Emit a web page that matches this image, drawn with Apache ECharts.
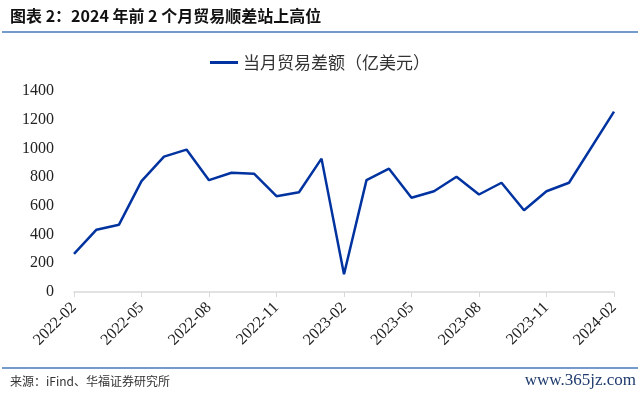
<!DOCTYPE html>
<html><head><meta charset="utf-8">
<script src="https://cdn.jsdelivr.net/npm/echarts@6/dist/echarts.min.js"></script>
<style>html,body{margin:0;padding:0;background:#fff}#c{width:640px;height:396px}</style>
</head><body><div id="c"></div>
<script>
const categories = ['2022-02','2022-03','2022-04','2022-05','2022-06','2022-07','2022-08','2022-09','2022-10','2022-11','2022-12','2023-01','2023-02','2023-03','2023-04','2023-05','2023-06','2023-07','2023-08','2023-09','2023-10','2023-11','2023-12','2024-01','2024-02'];
const tradeBalance = [266, 434, 469, 772, 943, 992, 779, 831, 824, 667, 695, 929, 124, 779, 859, 656, 702, 803, 679, 761, 569, 702, 761, null, 1256];
const yTicks = [0, 200, 400, 600, 800, 1000, 1200, 1400];
const seriesName = '当月贸易差额（亿美元）';
const titleText = '图表 2：2024 年前 2 个月贸易顺差站上高位';
const sourceText = '来源：iFind、华福证券研究所';
const watermark = 'www.365jz.com';

const chart = echarts.init(document.getElementById('c'));
chart.setOption({
  animation: false,
  grid: {left: 74, right: 26, top: 91, bottom: 104, containLabel: false},
  legend: {
    top: 49, left: 'center',
    itemWidth: 28, itemHeight: 14, itemGap: 6,
    icon: 'path://M0,6L28,6L28,9L0,9Z',
    textStyle: {fontFamily: 'Noto Sans CJK SC', fontSize: 17, color: '#333'},
    data: [seriesName]
  },
  xAxis: {
    type: 'category', data: categories, boundaryGap: false,
    axisLine: {lineStyle: {color: '#d9d9d9', width: 1.5}},
    axisTick: {show: true, interval: 2, length: 5, lineStyle: {color: '#d9d9d9'}},
    axisLabel: {interval: 2, rotate: 45, margin: 13, fontFamily: 'Liberation Serif', fontSize: 16, color: '#222'},
    splitLine: {show: false}
  },
  yAxis: {
    type: 'value', min: yTicks[0], max: yTicks[yTicks.length-1], interval: 200,
    axisLine: {show: false}, axisTick: {show: false},
    splitLine: {show: false},
    axisLabel: {margin: 20, fontFamily: 'Liberation Serif', fontSize: 16, color: '#222', formatter: v => String(v)}
  },
  series: [{
    name: seriesName, type: 'line', data: tradeBalance, connectNulls: true,
    symbol: 'none', lineStyle: {color: '#0033a0', width: 2.5}, itemStyle: {color: '#0033a0'}
  }],
  graphic: [
    {type: 'text', left: 10, top: 8, style: {text: titleText, font: 'bold 16px "Noto Sans CJK SC"', fill: '#111'}},
    {type: 'line', shape: {x1: 2, y1: 32, x2: 638, y2: 32}, style: {stroke: '#4a78bd', lineWidth: 1.5}},
    {type: 'line', shape: {x1: 2, y1: 368, x2: 638, y2: 368}, style: {stroke: '#4a78bd', lineWidth: 1.5}},
    {type: 'text', left: 10, top: 375, style: {text: sourceText, font: '12px "Noto Sans CJK SC"', fill: '#333'}},
    {type: 'text', right: 4, top: 372, style: {text: watermark, font: '17px "Liberation Serif"', fill: '#1f3b6e'}}
  ]
});
</script></body></html>
